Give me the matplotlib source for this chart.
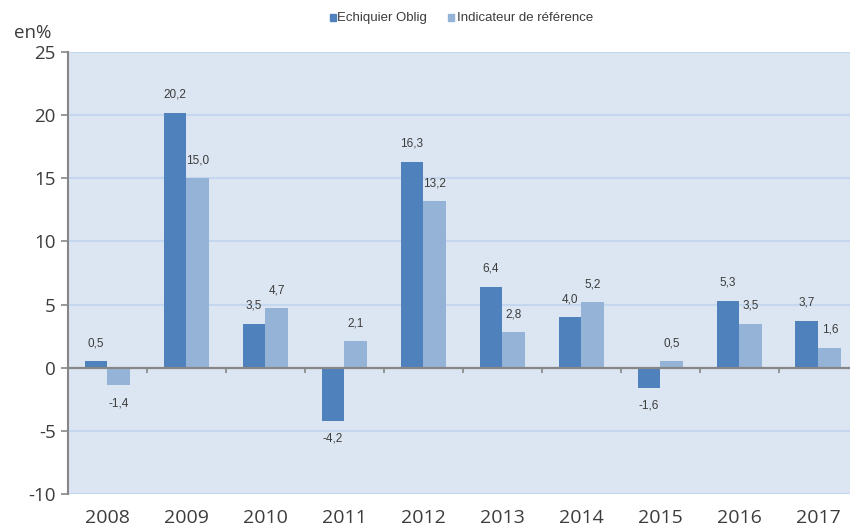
import matplotlib
matplotlib.use("Agg")
import matplotlib.pyplot as plt
import numpy as np

years = ["2008", "2009", "2010", "2011", "2012", "2013", "2014", "2015", "2016", "2017"]
fonds = [0.5, 20.2, 3.5, -4.2, 16.3, 6.4, 4.0, -1.6, 5.3, 3.7]
indice = [-1.4, 15.0, 4.7, 2.1, 13.2, 2.8, 5.2, 0.5, 3.5, 1.6]
series_names = ["Echiquier Oblig", "Indicateur de référence"]
yticks = [-10, -5, 0, 5, 10, 15, 20, 25]

dark = "#4f81bd"
light = "#95b3d7"
bg = "#dce6f2"
grid = "#c5d7ef"
axis_grey = "#868686"
txt = "#3c3c3c"
tick_font = "Open Sans"

fig = plt.figure(figsize=(8.5, 5.28), dpi=100)
ax = fig.add_axes([68 / 850, 1 - 494 / 528, 1 - 68 / 850, (494 - 52) / 528])
ax.set_facecolor(bg)

x = np.arange(len(years))
w = 0.29
b1 = ax.bar(x - w / 2, fonds, w, color=dark, zorder=3)
b2 = ax.bar(x + w / 2, indice, w, color=light, zorder=3)

ax.set_ylim(-10, 25)
ax.set_xlim(-0.5, 9.4)
ax.set_yticks(yticks)
ax.set_yticklabels([str(t) for t in yticks], fontsize=13.5, color=txt, family=tick_font)
ax.yaxis.grid(True, color=grid, lw=1.5, zorder=0)
ax.set_axisbelow(True)

for s in ["top", "right", "bottom"]:
    ax.spines[s].set_visible(False)
ax.spines["left"].set_color(axis_grey)
ax.spines["left"].set_linewidth(1.5)
ax.tick_params(axis="y", direction="out", length=5, color=axis_grey, width=1.2, pad=4)

ax.set_xticks(x)
ax.set_xticklabels(years, fontsize=14, color=txt, family=tick_font)
ax.tick_params(axis="x", length=0, pad=11)

# zero line with category separator ticks
ax.axhline(0, color=axis_grey, lw=1.6, zorder=4)
ax.vlines(x[:-1] + 0.5, -0.38, 0, color=axis_grey, lw=1.2, zorder=4)

# value labels
def fmt(v):
    return f"{v:.1f}".replace(".", ",")

off = 18
for bars, vals in ((b1, fonds), (b2, indice)):
    for r, v in zip(bars, vals):
        cx = r.get_x() + r.get_width() / 2
        ax.annotate(fmt(v), (cx, v), xytext=(0, off if v >= 0 else -off),
                    textcoords="offset pixels", ha="center", va="center",
                    fontsize=8.5, color=txt, family="Liberation Sans", zorder=5)

fig.text(33 / 850, 1 - 33 / 528, "en%", fontsize=13.5, color=txt, family=tick_font,
         ha="center", va="center")

# legend
ly = 1 - 18 / 528
fig.patches.append(plt.Rectangle((330 / 850, ly - 3.5 / 528), 6 / 850, 7 / 528,
                                 transform=fig.transFigure, color=dark))
fig.text(337 / 850, ly, series_names[0], fontsize=9.5, color=txt,
         family="Liberation Sans", ha="left", va="center")
fig.patches.append(plt.Rectangle((448 / 850, ly - 3.5 / 528), 6 / 850, 7 / 528,
                                 transform=fig.transFigure, color=light))
fig.text(457 / 850, ly, series_names[1], fontsize=9.5, color=txt,
         family="Liberation Sans", ha="left", va="center")

fig.savefig("out.png", dpi=100)
